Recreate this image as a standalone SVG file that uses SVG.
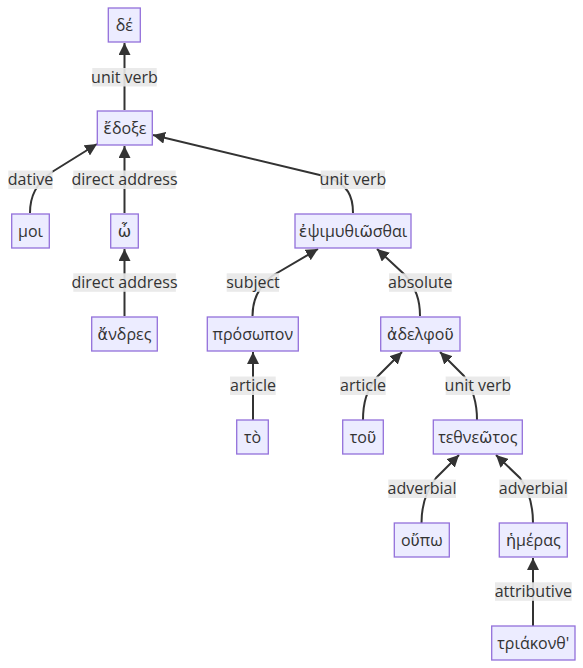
<svg xmlns="http://www.w3.org/2000/svg" width="583" height="668" viewBox="0 0 583 668">
<defs>
<marker id="arrow" viewBox="0 0 10 10" refX="10" refY="5" markerUnits="userSpaceOnUse" markerWidth="12" markerHeight="12" orient="auto">
<path d="M0,0 L10,5 L0,10 z" fill="#333333"/>
</marker>
</defs>
<style>
.node rect{fill:#ECECFF;stroke:#9370DB;stroke-width:1.3}
.node text{font-family:"Open Sans","DejaVu Sans",sans-serif;font-size:16px;fill:#333333;text-anchor:middle}
.edge{fill:none;stroke:#333333;stroke-width:2;marker-end:url(#arrow)}
.lbl rect{fill:#e8e8e8;opacity:0.9}
.lbl text{font-family:"Open Sans","DejaVu Sans",sans-serif;font-size:16px;fill:#333333;text-anchor:middle}
</style>
<rect width="583" height="668" fill="#ffffff"/>
<g id="edges">
<path class="edge" d="M124.5,110 L124.5,43"/>
<path class="edge" d="M30,213 C30,196 36,184 52,172 L97,144"/>
<path class="edge" d="M124.5,213 L124.5,146"/>
<path class="edge" d="M353,213 C353,196 348,185 328,177 L153,135"/>
<path class="edge" d="M124.5,316 L124.5,249"/>
<path class="edge" d="M252.5,316 C252.5,300 258,288 272,276 L318,249"/>
<path class="edge" d="M420,316 C420,300 416,288 405,275 L377,249"/>
<path class="edge" d="M253,420 L253,352"/>
<path class="edge" d="M363,420 C363,404 366,390 378,376 L402,352"/>
<path class="edge" d="M477,420 C477,404 474,390 464,376 L440,352"/>
<path class="edge" d="M421.5,523 C421.5,507 425,492 436,478 L459,455"/>
<path class="edge" d="M533,523 C533,507 530,492 520,478 L496,455"/>
<path class="edge" d="M533,626 L533,558"/>
</g>
<g id="labels">
<g class="lbl"><rect x="92.3" y="68" width="64.4" height="18.5"/><text x="124.5" y="82.5">unit verb</text></g>
<g class="lbl"><rect x="8.3" y="170.5" width="44.4" height="18.5"/><text x="30.5" y="185">dative</text></g>
<g class="lbl"><rect x="73.3" y="170.5" width="102.4" height="18.5"/><text x="124.5" y="185">direct address</text></g>
<g class="lbl"><rect x="320.7" y="170.5" width="64.3" height="18.5"/><text x="353" y="185">unit verb</text></g>
<g class="lbl"><rect x="73.3" y="273.3" width="102.6" height="18.5"/><text x="124.5" y="288">direct address</text></g>
<g class="lbl"><rect x="226.7" y="273.3" width="52.3" height="18.5"/><text x="253" y="288">subject</text></g>
<g class="lbl"><rect x="389" y="273.3" width="62.7" height="18.5"/><text x="420.3" y="288">absolute</text></g>
<g class="lbl"><rect x="230" y="376.5" width="45.7" height="18.5"/><text x="253" y="391">article</text></g>
<g class="lbl"><rect x="340" y="376.5" width="45.7" height="18.5"/><text x="363" y="391">article</text></g>
<g class="lbl"><rect x="445.7" y="376.5" width="64.3" height="18.5"/><text x="478" y="391">unit verb</text></g>
<g class="lbl"><rect x="388.3" y="479.5" width="67.7" height="18.5"/><text x="422" y="494">adverbial</text></g>
<g class="lbl"><rect x="499.3" y="479.5" width="68" height="18.5"/><text x="533.3" y="494">adverbial</text></g>
<g class="lbl"><rect x="495" y="582.3" width="76.7" height="18.5"/><text x="533.3" y="597">attributive</text></g>
</g>
<g id="n-de" class="node"><rect x="108.3" y="8" width="32" height="34"/><text x="124.3" y="30.5">δέ</text></g>
<g id="n-edoxe" class="node"><rect x="97.3" y="111" width="55" height="34"/><text x="124.8" y="133.5">ἔδοξε</text></g>
<g id="n-moi" class="node"><rect x="11.7" y="214" width="37.6" height="34"/><text x="30.5" y="236.5">μοι</text></g>
<g id="n-o" class="node"><rect x="110.7" y="214" width="27.6" height="34"/><text x="124.5" y="236.5">ὦ</text></g>
<g id="n-epsim" class="node"><rect x="295" y="214" width="116" height="34"/><text x="353" y="236.5">ἐψιμυθιῶσθαι</text></g>
<g id="n-andres" class="node"><rect x="91.7" y="317" width="65.6" height="34"/><text x="124.5" y="339.5">ἄνδρες</text></g>
<g id="n-prosopon" class="node"><rect x="207.3" y="317" width="91" height="34"/><text x="252.8" y="339.5">πρόσωπον</text></g>
<g id="n-adelphou" class="node"><rect x="380.7" y="317" width="79.3" height="34"/><text x="420.3" y="339.5">ἀδελφοῦ</text></g>
<g id="n-to" class="node"><rect x="236.7" y="420" width="31.6" height="34"/><text x="252.5" y="442.5">τὸ</text></g>
<g id="n-tou" class="node"><rect x="342.7" y="420" width="40.6" height="34"/><text x="363" y="442.5">τοῦ</text></g>
<g id="n-tethneotos" class="node"><rect x="433.3" y="420" width="89" height="34"/><text x="477.8" y="442.5">τεθνεῶτος</text></g>
<g id="n-oupo" class="node"><rect x="394.3" y="523" width="55" height="34"/><text x="421.8" y="545.5">οὔπω</text></g>
<g id="n-hemeras" class="node"><rect x="499.3" y="523" width="68" height="34"/><text x="533.3" y="545.5">ἡμέρας</text></g>
<g id="n-triakonth" class="node"><rect x="491.7" y="626" width="83.3" height="34"/><text x="533.3" y="648.5">τριάκονθ'</text></g>
</svg>
